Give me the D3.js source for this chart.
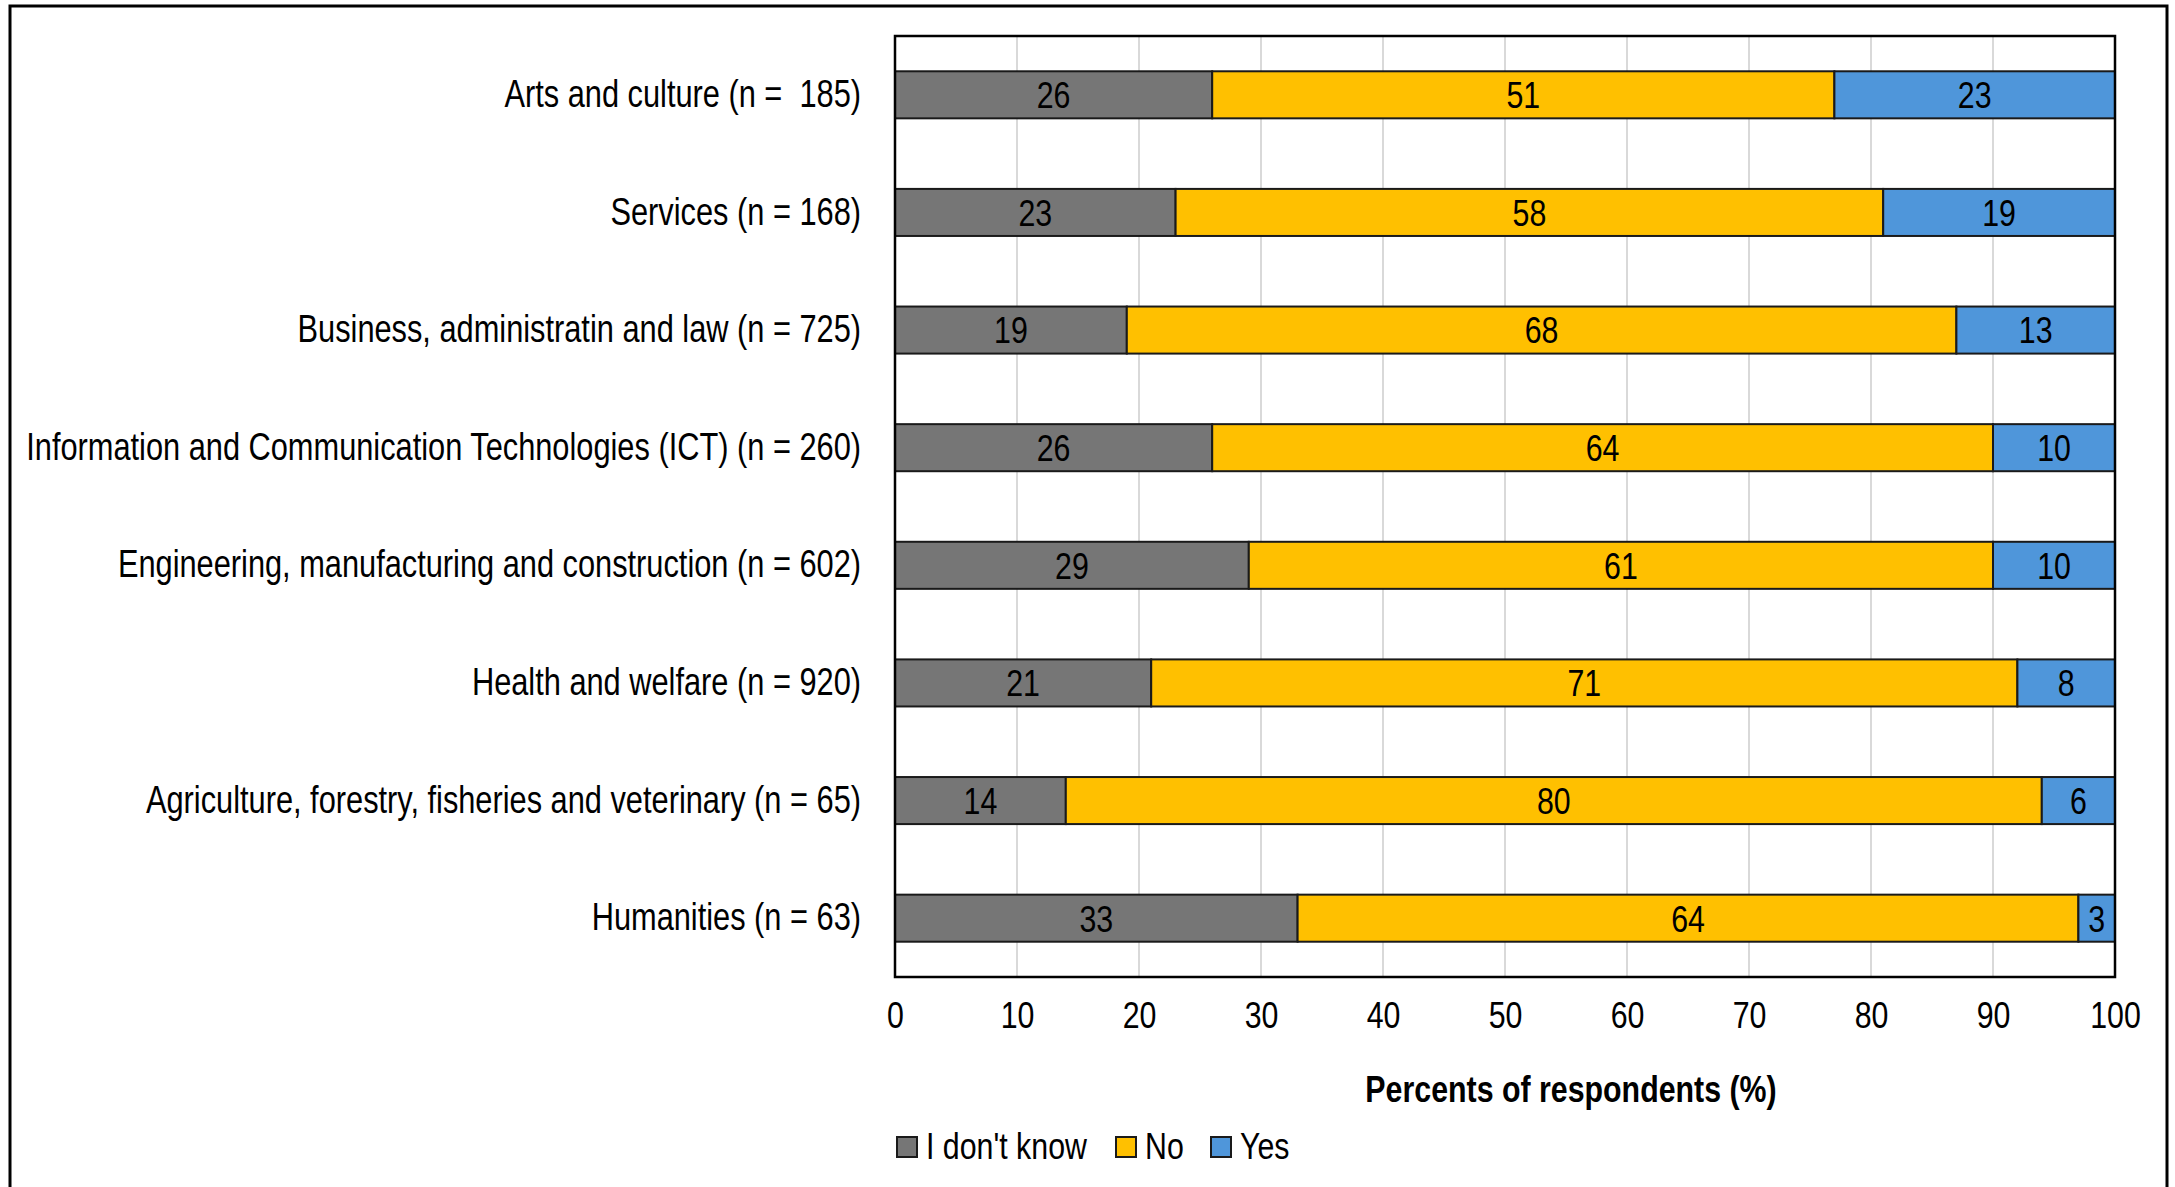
<!DOCTYPE html>
<html>
<head>
<meta charset="utf-8">
<script src="https://cdn.jsdelivr.net/npm/d3@7"></script>
<style>
  body { margin: 0; background: #fff; }
  svg text { font-family: "Liberation Sans", Arial, sans-serif; fill: #000; white-space: pre; }
</style>
</head>
<body>
<svg width="2175" height="1187"></svg>
<script>
var svg = d3.select("svg"),
  width = +svg.attr("width"),
  height = +svg.attr("height");

// categories, top to bottom
var categories = [
  "Arts and culture (n =  185)",
  "Services (n = 168)",
  "Business, administratin and law (n = 725)",
  "Information and Communication Technologies (ICT) (n = 260)",
  "Engineering, manufacturing and construction (n = 602)",
  "Health and welfare (n = 920)",
  "Agriculture, forestry, fisheries and veterinary (n = 65)",
  "Humanities (n = 63)"
];
var seriesNames = ["I don't know", "No", "Yes"];
var dontKnow = [26, 23, 19, 26, 29, 21, 14, 33];
var no = [51, 58, 68, 64, 61, 71, 80, 64];
var yes = [23, 19, 13, 10, 10, 8, 6, 3];
var xTicks = [0, 10, 20, 30, 40, 50, 60, 70, 80, 90, 100];
var colors = ["#767676", "#FFC000", "#4F96DA"];

// narrow look: regular face squeezed horizontally
var squeeze = "scale(0.82,1)";
var fs = 37;

var margin = {left: 895, right: 60, top: 36, bottom: 210};

var x = d3.scaleLinear()
  .domain([0, 100])
  .range([margin.left, width - margin.right]);

var y = d3.scaleBand()
  .domain(categories)
  .range([margin.top, height - margin.bottom])
  .paddingInner(0.6)
  .paddingOuter(0.3);

// outer frame (bottom edge runs off the page)
svg.append("rect")
  .attr("x", 10).attr("y", 6)
  .attr("width", 2157).attr("height", 1300)
  .attr("fill", "none")
  .attr("stroke", "#000")
  .attr("stroke-width", 3);

// gridlines
svg.append("g")
  .selectAll("line")
  .data(xTicks.slice(1, -1))
  .enter().append("line")
  .attr("x1", function(d) { return x(d); })
  .attr("x2", function(d) { return x(d); })
  .attr("y1", margin.top)
  .attr("y2", height - margin.bottom)
  .attr("stroke", "#D9D9D9")
  .attr("stroke-width", 2);

var rows = categories.map(function(c, i) {
  return {cat: c, vals: [dontKnow[i], no[i], yes[i]]};
});

var stacked = [];
rows.forEach(function(r) {
  var acc = 0;
  r.vals.forEach(function(v, k) {
    stacked.push({cat: r.cat, k: k, x0: acc, x1: acc + v, v: v});
    acc += v;
  });
});

var bars = svg.append("g");
bars.selectAll("rect")
  .data(stacked)
  .enter().append("rect")
  .attr("x", function(d) { return x(d.x0); })
  .attr("width", function(d) { return x(d.x1) - x(d.x0); })
  .attr("y", function(d) { return y(d.cat); })
  .attr("height", y.bandwidth())
  .attr("fill", function(d) { return colors[d.k]; })
  .attr("stroke", "#1a1a1a")
  .attr("stroke-width", 2);

bars.selectAll("text")
  .data(stacked)
  .enter().append("text")
  .attr("transform", function(d) {
    return "translate(" + x((d.x0 + d.x1) / 2) + "," + (y(d.cat) + y.bandwidth() / 2) + ")" + squeeze;
  })
  .attr("dy", "0.36em")
  .attr("text-anchor", "middle")
  .attr("font-size", fs)
  .text(function(d) { return d.v; });

// plot frame
svg.append("rect")
  .attr("x", x(0)).attr("y", margin.top)
  .attr("width", x(100) - x(0))
  .attr("height", height - margin.bottom - margin.top)
  .attr("fill", "none")
  .attr("stroke", "#000")
  .attr("stroke-width", 2.5);

// x axis
var xAxis = svg.append("g")
  .attr("transform", "translate(0," + (height - margin.bottom) + ")")
  .call(d3.axisBottom(x).tickValues(xTicks).tickSize(0).tickPadding(25));
xAxis.select(".domain").remove();
xAxis.selectAll("text")
  .attr("font-size", fs)
  .attr("font-family", null)
  .attr("transform", squeeze);

// y axis labels
var yAxis = svg.append("g")
  .attr("transform", "translate(" + (margin.left - 34) + ",0)")
  .call(d3.axisLeft(y).tickSize(0).tickPadding(0));
yAxis.select(".domain").remove();
yAxis.selectAll("text")
  .attr("font-size", 38)
  .attr("font-family", null)
  .attr("transform", "scale(0.81,1)");

// axis title
svg.append("text")
  .attr("transform", "translate(1571,1102)" + squeeze)
  .attr("text-anchor", "middle")
  .attr("font-size", fs)
  .attr("font-weight", "bold")
  .text("Percents of respondents (%)");

// legend
var legendX = [897, 1116, 1211];
var legend = svg.append("g")
  .selectAll("g")
  .data(seriesNames)
  .enter().append("g")
  .attr("transform", function(d, i) { return "translate(" + legendX[i] + ",1137)"; });

legend.append("rect")
  .attr("width", 20).attr("height", 20)
  .attr("fill", function(d, i) { return colors[i]; })
  .attr("stroke", "#1a1a1a")
  .attr("stroke-width", 2);

legend.append("text")
  .attr("transform", "translate(29,22)" + squeeze)
  .attr("font-size", fs)
  .text(function(d) { return d; });
</script>
</body>
</html>
